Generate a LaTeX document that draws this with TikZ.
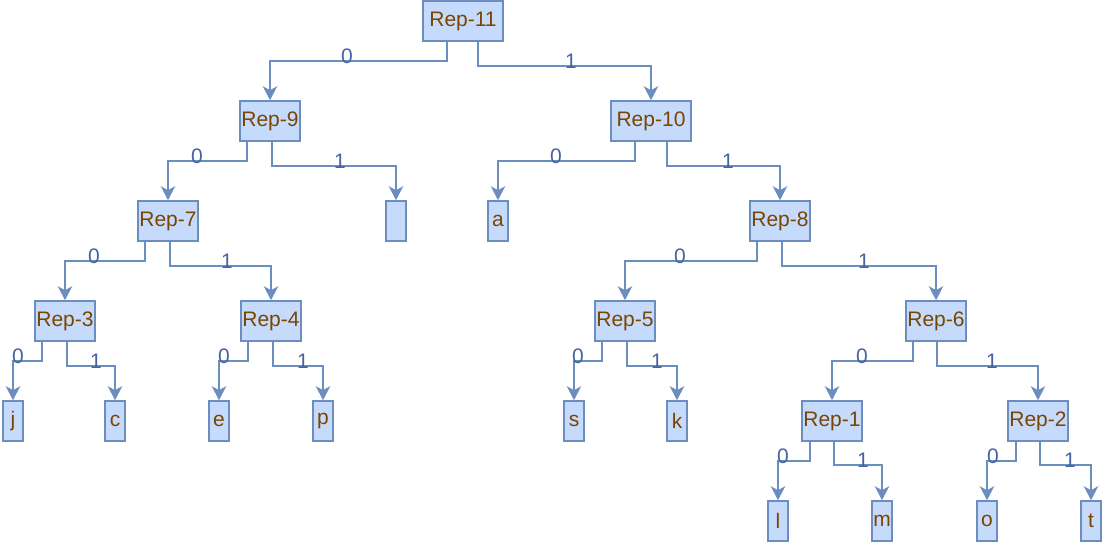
\documentclass[tikz,border=0pt]{standalone}
\usepackage{fontspec}
\setmainfont{Liberation Sans}
\usetikzlibrary{arrows.meta}
\definecolor{boxfill}{HTML}{C6DBFC}
\definecolor{boxline}{HTML}{6C8EBF}
\definecolor{txtbrown}{HTML}{7A4500}
\definecolor{lblblue}{HTML}{4563A0}
\tikzset{
  repbox/.style={draw=boxline, fill=boxfill, line width=1.6pt, minimum height=40pt, minimum width=60pt, inner sep=0pt, text=txtbrown, font=\fontsize{21}{25}\selectfont},
  leafbox/.style={repbox, minimum width=20pt},
  conn/.style={draw=boxline, line width=1.6pt, -{Stealth[length=14pt,width=14.5pt,inset=4pt]}},
  bit/.style={text=lblblue, font=\fontsize{21}{25}\selectfont, inner sep=0pt}
}
\begin{document}
\begin{tikzpicture}[x=1pt,y=-1pt]
\useasboundingbox (0,0) rectangle (1104,543);
% nodes
\node[repbox, minimum width=80pt] (r11) at (463,21) {Rep-11};
\node[repbox] (r9) at (270,121) {Rep-9};
\node[repbox, minimum width=80pt] (r10) at (651,121) {Rep-10};
\node[repbox] (r7) at (168,221) {Rep-7};
\node[leafbox] (blank) at (396,221) {};
\node[leafbox] (a) at (498,221) {a};
\node[repbox] (r8) at (780,221) {Rep-8};
\node[repbox] (r3) at (65,321) {Rep-3};
\node[repbox] (r4) at (271,321) {Rep-4};
\node[repbox] (r5) at (625,321) {Rep-5};
\node[repbox] (r6) at (936,321) {Rep-6};
\node[leafbox] (j) at (13,421) {j};
\node[leafbox] (c) at (115,421) {c};
\node[leafbox] (e) at (219,421) {e};
\node[leafbox] (p) at (323,421) {p};
\node[leafbox] (s) at (574,421) {s};
\node[leafbox] (k) at (677,421) {k};
\node[repbox] (r1) at (832,421) {Rep-1};
\node[repbox] (r2) at (1038,421) {Rep-2};
\node[leafbox] (l) at (778,521) {l};
\node[leafbox] (m) at (882,521) {m};
\node[leafbox] (o) at (987,521) {o};
\node[leafbox] (t) at (1091,521) {t};
% edges: parent, child, exit x, y of horizontal run, label x, label
\newcommand{\treeedge}[6]{%
  \draw[conn] (#1.south -| #3,0) -- (#3,#4) -- (#2.north |- 0,#4) -- (#2.north);
  \node[bit] at (#5,#4-5) {#6};}
\treeedge{r11}{r9}{447}{61}{347}{0}
\treeedge{r11}{r10}{478}{66}{571}{1}
\treeedge{r9}{r7}{247}{161}{197}{0}
\treeedge{r9}{blank}{272}{166}{340}{1}
\treeedge{r10}{a}{635}{161}{556}{0}
\treeedge{r10}{r8}{667}{166}{728}{1}
\treeedge{r7}{r3}{145}{261}{94}{0}
\treeedge{r7}{r4}{170}{266}{227}{1}
\treeedge{r8}{r5}{757}{261}{680}{0}
\treeedge{r8}{r6}{782}{266}{864}{1}
\treeedge{r3}{j}{42}{361}{18}{0}
\treeedge{r3}{c}{67}{366}{96}{1}
\treeedge{r4}{e}{248}{361}{224}{0}
\treeedge{r4}{p}{273}{366}{303}{1}
\treeedge{r5}{s}{602}{361}{578}{0}
\treeedge{r5}{k}{627}{366}{657}{1}
\treeedge{r6}{r1}{913}{361}{862}{0}
\treeedge{r6}{r2}{937}{366}{992}{1}
\treeedge{r1}{l}{810}{461}{783}{0}
\treeedge{r1}{m}{834}{465}{863}{1}
\treeedge{r2}{o}{1016}{461}{993}{0}
\treeedge{r2}{t}{1040}{465}{1070}{1}
\end{tikzpicture}
\end{document}
